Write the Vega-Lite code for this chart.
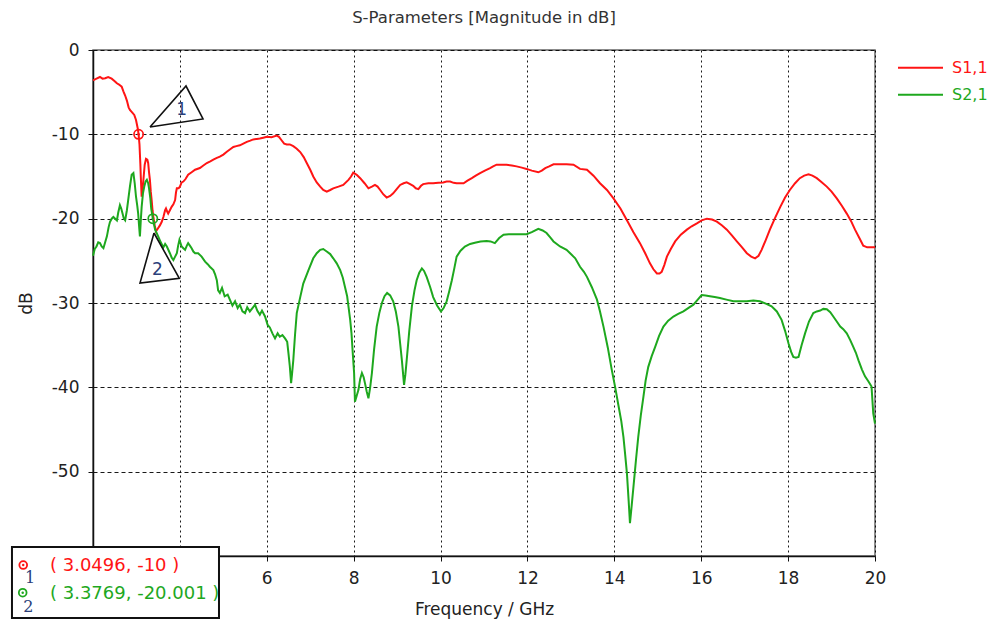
{
  "$schema": "https://vega.github.io/schema/vega-lite/v6.json",
  "width": 782,
  "height": 506,
  "autosize": {"type": "none"},
  "padding": {"left": 93, "top": 50, "right": 114, "bottom": 67},
  "background": "white",
  "title": {
    "text": "S-Parameters [Magnitude in dB]",
    "font": "DejaVu Sans",
    "fontSize": 16.5,
    "fontWeight": "normal",
    "color": "#333333",
    "anchor": "middle",
    "offset": 15
  },
  "config": {
    "font": "DejaVu Sans",
    "view": {"stroke": "#666666", "strokeWidth": 1.5},
    "axis": {
      "domainColor": "#111111",
      "domainWidth": 1.5,
      "tickColor": "#111111",
      "tickSize": 5,
      "labelPadding": 9,
      "labelFontSize": 17,
      "labelColor": "#222222",
      "labelFlush": false,
      "labelOverlap": false,
      "titleFontSize": 17,
      "titleFontWeight": "normal",
      "titleColor": "#222222",
      "grid": true,
      "gridColor": "#000000",
      "gridWidth": 1,
      "gridOpacity": 0.9
    }
  },
  "datasets": {
    "curves": [
      {"s":"S1,1","f":2.00,"dB":-3.6},{"s":"S1,1","f":2.08,"dB":-3.4},{"s":"S1,1","f":2.16,"dB":-3.2},{"s":"S1,1","f":2.22,"dB":-3.4},
      {"s":"S1,1","f":2.28,"dB":-3.35},{"s":"S1,1","f":2.35,"dB":-3.2},{"s":"S1,1","f":2.43,"dB":-3.4},{"s":"S1,1","f":2.50,"dB":-3.7},
      {"s":"S1,1","f":2.55,"dB":-3.95},{"s":"S1,1","f":2.60,"dB":-4.1},{"s":"S1,1","f":2.66,"dB":-4.35},{"s":"S1,1","f":2.70,"dB":-4.9},
      {"s":"S1,1","f":2.74,"dB":-5.4},{"s":"S1,1","f":2.78,"dB":-6.0},{"s":"S1,1","f":2.82,"dB":-6.8},{"s":"S1,1","f":2.85,"dB":-7.1},
      {"s":"S1,1","f":2.90,"dB":-7.4},{"s":"S1,1","f":2.95,"dB":-7.7},{"s":"S1,1","f":2.99,"dB":-8.3},{"s":"S1,1","f":3.03,"dB":-9.3},
      {"s":"S1,1","f":3.0496,"dB":-10.0},{"s":"S1,1","f":3.07,"dB":-11.2},{"s":"S1,1","f":3.09,"dB":-13.5},{"s":"S1,1","f":3.10,"dB":-15.0},
      {"s":"S1,1","f":3.12,"dB":-17.4},{"s":"S1,1","f":3.14,"dB":-16.5},{"s":"S1,1","f":3.16,"dB":-15.4},{"s":"S1,1","f":3.19,"dB":-13.6},
      {"s":"S1,1","f":3.22,"dB":-12.9},{"s":"S1,1","f":3.25,"dB":-13.0},{"s":"S1,1","f":3.27,"dB":-13.4},{"s":"S1,1","f":3.29,"dB":-14.5},
      {"s":"S1,1","f":3.31,"dB":-15.4},{"s":"S1,1","f":3.33,"dB":-16.8},{"s":"S1,1","f":3.35,"dB":-17.8},{"s":"S1,1","f":3.37,"dB":-19.0},
      {"s":"S1,1","f":3.39,"dB":-19.8},{"s":"S1,1","f":3.42,"dB":-20.8},{"s":"S1,1","f":3.45,"dB":-21.5},{"s":"S1,1","f":3.49,"dB":-21.2},
      {"s":"S1,1","f":3.54,"dB":-20.8},{"s":"S1,1","f":3.58,"dB":-20.4},{"s":"S1,1","f":3.62,"dB":-19.8},{"s":"S1,1","f":3.66,"dB":-19.0},
      {"s":"S1,1","f":3.68,"dB":-18.8},{"s":"S1,1","f":3.71,"dB":-19.2},{"s":"S1,1","f":3.73,"dB":-19.4},{"s":"S1,1","f":3.77,"dB":-19.0},
      {"s":"S1,1","f":3.81,"dB":-18.6},{"s":"S1,1","f":3.85,"dB":-18.3},{"s":"S1,1","f":3.89,"dB":-17.8},{"s":"S1,1","f":3.91,"dB":-16.9},
      {"s":"S1,1","f":3.93,"dB":-16.4},{"s":"S1,1","f":3.97,"dB":-16.4},{"s":"S1,1","f":4.00,"dB":-16.2},{"s":"S1,1","f":4.04,"dB":-15.7},
      {"s":"S1,1","f":4.08,"dB":-15.6},{"s":"S1,1","f":4.13,"dB":-15.3},{"s":"S1,1","f":4.19,"dB":-14.8},{"s":"S1,1","f":4.27,"dB":-14.5},
      {"s":"S1,1","f":4.35,"dB":-14.2},{"s":"S1,1","f":4.46,"dB":-14.0},{"s":"S1,1","f":4.54,"dB":-13.7},{"s":"S1,1","f":4.62,"dB":-13.4},
      {"s":"S1,1","f":4.70,"dB":-13.2},{"s":"S1,1","f":4.77,"dB":-13.0},{"s":"S1,1","f":4.85,"dB":-12.8},{"s":"S1,1","f":4.92,"dB":-12.65},
      {"s":"S1,1","f":5.00,"dB":-12.4},{"s":"S1,1","f":5.08,"dB":-12.06},{"s":"S1,1","f":5.15,"dB":-11.8},{"s":"S1,1","f":5.23,"dB":-11.5},
      {"s":"S1,1","f":5.30,"dB":-11.4},{"s":"S1,1","f":5.38,"dB":-11.3},{"s":"S1,1","f":5.46,"dB":-11.1},{"s":"S1,1","f":5.54,"dB":-10.9},
      {"s":"S1,1","f":5.62,"dB":-10.75},{"s":"S1,1","f":5.69,"dB":-10.6},{"s":"S1,1","f":5.77,"dB":-10.55},{"s":"S1,1","f":5.84,"dB":-10.5},
      {"s":"S1,1","f":5.92,"dB":-10.4},{"s":"S1,1","f":6.00,"dB":-10.3},{"s":"S1,1","f":6.11,"dB":-10.35},{"s":"S1,1","f":6.23,"dB":-10.15},
      {"s":"S1,1","f":6.28,"dB":-10.3},{"s":"S1,1","f":6.34,"dB":-10.7},{"s":"S1,1","f":6.40,"dB":-11.1},{"s":"S1,1","f":6.46,"dB":-11.2},
      {"s":"S1,1","f":6.53,"dB":-11.2},{"s":"S1,1","f":6.61,"dB":-11.4},{"s":"S1,1","f":6.69,"dB":-11.7},{"s":"S1,1","f":6.77,"dB":-12.1},
      {"s":"S1,1","f":6.85,"dB":-12.7},{"s":"S1,1","f":6.92,"dB":-13.4},{"s":"S1,1","f":7.00,"dB":-14.2},{"s":"S1,1","f":7.07,"dB":-15.0},
      {"s":"S1,1","f":7.15,"dB":-15.7},{"s":"S1,1","f":7.23,"dB":-16.2},{"s":"S1,1","f":7.30,"dB":-16.6},{"s":"S1,1","f":7.38,"dB":-16.8},
      {"s":"S1,1","f":7.46,"dB":-16.6},{"s":"S1,1","f":7.53,"dB":-16.4},{"s":"S1,1","f":7.65,"dB":-16.2},{"s":"S1,1","f":7.76,"dB":-16.0},
      {"s":"S1,1","f":7.88,"dB":-15.4},{"s":"S1,1","f":7.94,"dB":-15.0},{"s":"S1,1","f":7.99,"dB":-14.55},{"s":"S1,1","f":8.07,"dB":-14.8},
      {"s":"S1,1","f":8.15,"dB":-15.2},{"s":"S1,1","f":8.25,"dB":-15.8},{"s":"S1,1","f":8.34,"dB":-16.4},{"s":"S1,1","f":8.42,"dB":-16.2},
      {"s":"S1,1","f":8.49,"dB":-16.0},{"s":"S1,1","f":8.55,"dB":-16.2},{"s":"S1,1","f":8.61,"dB":-16.6},{"s":"S1,1","f":8.68,"dB":-17.1},
      {"s":"S1,1","f":8.76,"dB":-17.5},{"s":"S1,1","f":8.84,"dB":-17.3},{"s":"S1,1","f":8.91,"dB":-17.0},{"s":"S1,1","f":8.99,"dB":-16.5},
      {"s":"S1,1","f":9.07,"dB":-16.0},{"s":"S1,1","f":9.15,"dB":-15.8},{"s":"S1,1","f":9.22,"dB":-15.7},{"s":"S1,1","f":9.30,"dB":-15.9},
      {"s":"S1,1","f":9.37,"dB":-16.1},{"s":"S1,1","f":9.43,"dB":-16.4},{"s":"S1,1","f":9.49,"dB":-16.5},{"s":"S1,1","f":9.55,"dB":-16.1},
      {"s":"S1,1","f":9.60,"dB":-15.9},{"s":"S1,1","f":9.72,"dB":-15.8},{"s":"S1,1","f":9.83,"dB":-15.8},{"s":"S1,1","f":9.95,"dB":-15.75},
      {"s":"S1,1","f":10.06,"dB":-15.7},{"s":"S1,1","f":10.14,"dB":-15.6},{"s":"S1,1","f":10.22,"dB":-15.6},{"s":"S1,1","f":10.30,"dB":-15.75},
      {"s":"S1,1","f":10.37,"dB":-15.8},{"s":"S1,1","f":10.53,"dB":-15.8},{"s":"S1,1","f":10.62,"dB":-15.5},{"s":"S1,1","f":10.72,"dB":-15.2},
      {"s":"S1,1","f":10.81,"dB":-14.9},{"s":"S1,1","f":10.91,"dB":-14.6},{"s":"S1,1","f":11.02,"dB":-14.3},{"s":"S1,1","f":11.14,"dB":-14.0},
      {"s":"S1,1","f":11.21,"dB":-13.8},{"s":"S1,1","f":11.29,"dB":-13.6},{"s":"S1,1","f":11.40,"dB":-13.6},{"s":"S1,1","f":11.52,"dB":-13.6},
      {"s":"S1,1","f":11.64,"dB":-13.7},{"s":"S1,1","f":11.75,"dB":-13.8},{"s":"S1,1","f":11.87,"dB":-13.95},{"s":"S1,1","f":11.98,"dB":-14.1},
      {"s":"S1,1","f":12.10,"dB":-14.3},{"s":"S1,1","f":12.25,"dB":-14.5},{"s":"S1,1","f":12.33,"dB":-14.3},{"s":"S1,1","f":12.41,"dB":-14.0},
      {"s":"S1,1","f":12.50,"dB":-13.8},{"s":"S1,1","f":12.60,"dB":-13.55},{"s":"S1,1","f":12.75,"dB":-13.55},{"s":"S1,1","f":12.90,"dB":-13.55},
      {"s":"S1,1","f":13.06,"dB":-13.6},{"s":"S1,1","f":13.21,"dB":-14.1},{"s":"S1,1","f":13.37,"dB":-14.2},{"s":"S1,1","f":13.52,"dB":-14.9},
      {"s":"S1,1","f":13.67,"dB":-15.8},{"s":"S1,1","f":13.83,"dB":-16.6},{"s":"S1,1","f":13.98,"dB":-17.6},{"s":"S1,1","f":14.14,"dB":-18.8},
      {"s":"S1,1","f":14.29,"dB":-20.2},{"s":"S1,1","f":14.44,"dB":-21.6},{"s":"S1,1","f":14.59,"dB":-22.9},{"s":"S1,1","f":14.71,"dB":-24.1},
      {"s":"S1,1","f":14.82,"dB":-25.3},{"s":"S1,1","f":14.90,"dB":-26.0},{"s":"S1,1","f":14.98,"dB":-26.5},{"s":"S1,1","f":15.04,"dB":-26.5},
      {"s":"S1,1","f":15.09,"dB":-26.3},{"s":"S1,1","f":15.15,"dB":-25.5},{"s":"S1,1","f":15.21,"dB":-24.5},{"s":"S1,1","f":15.30,"dB":-23.6},
      {"s":"S1,1","f":15.40,"dB":-22.7},{"s":"S1,1","f":15.53,"dB":-21.9},{"s":"S1,1","f":15.67,"dB":-21.3},{"s":"S1,1","f":15.78,"dB":-20.9},
      {"s":"S1,1","f":15.90,"dB":-20.55},{"s":"S1,1","f":16.01,"dB":-20.2},{"s":"S1,1","f":16.13,"dB":-20.0},{"s":"S1,1","f":16.25,"dB":-20.1},
      {"s":"S1,1","f":16.36,"dB":-20.35},{"s":"S1,1","f":16.48,"dB":-20.8},{"s":"S1,1","f":16.59,"dB":-21.3},{"s":"S1,1","f":16.71,"dB":-22.0},
      {"s":"S1,1","f":16.82,"dB":-22.7},{"s":"S1,1","f":16.94,"dB":-23.4},{"s":"S1,1","f":17.05,"dB":-24.1},{"s":"S1,1","f":17.15,"dB":-24.5},
      {"s":"S1,1","f":17.24,"dB":-24.7},{"s":"S1,1","f":17.32,"dB":-24.4},{"s":"S1,1","f":17.39,"dB":-23.7},{"s":"S1,1","f":17.48,"dB":-22.6},
      {"s":"S1,1","f":17.58,"dB":-21.3},{"s":"S1,1","f":17.70,"dB":-19.9},{"s":"S1,1","f":17.82,"dB":-18.6},{"s":"S1,1","f":17.93,"dB":-17.5},
      {"s":"S1,1","f":18.04,"dB":-16.6},{"s":"S1,1","f":18.16,"dB":-15.8},{"s":"S1,1","f":18.27,"dB":-15.2},{"s":"S1,1","f":18.37,"dB":-14.9},
      {"s":"S1,1","f":18.47,"dB":-14.75},{"s":"S1,1","f":18.56,"dB":-14.9},{"s":"S1,1","f":18.66,"dB":-15.2},{"s":"S1,1","f":18.78,"dB":-15.7},
      {"s":"S1,1","f":18.89,"dB":-16.2},{"s":"S1,1","f":19.00,"dB":-16.8},{"s":"S1,1","f":19.12,"dB":-17.6},{"s":"S1,1","f":19.24,"dB":-18.5},
      {"s":"S1,1","f":19.35,"dB":-19.4},{"s":"S1,1","f":19.45,"dB":-20.3},{"s":"S1,1","f":19.54,"dB":-21.3},{"s":"S1,1","f":19.64,"dB":-22.3},
      {"s":"S1,1","f":19.73,"dB":-23.2},{"s":"S1,1","f":19.82,"dB":-23.4},{"s":"S1,1","f":20.00,"dB":-23.4},

      {"s":"S2,1","f":2.00,"dB":-24.4},{"s":"S2,1","f":2.04,"dB":-23.6},{"s":"S2,1","f":2.08,"dB":-23.3},{"s":"S2,1","f":2.12,"dB":-22.8},
      {"s":"S2,1","f":2.16,"dB":-22.9},{"s":"S2,1","f":2.20,"dB":-23.3},{"s":"S2,1","f":2.24,"dB":-23.5},{"s":"S2,1","f":2.28,"dB":-22.8},
      {"s":"S2,1","f":2.32,"dB":-22.1},{"s":"S2,1","f":2.36,"dB":-21.0},{"s":"S2,1","f":2.39,"dB":-20.4},{"s":"S2,1","f":2.43,"dB":-20.0},
      {"s":"S2,1","f":2.47,"dB":-19.8},{"s":"S2,1","f":2.51,"dB":-20.0},{"s":"S2,1","f":2.55,"dB":-20.2},{"s":"S2,1","f":2.58,"dB":-19.3},
      {"s":"S2,1","f":2.62,"dB":-18.4},{"s":"S2,1","f":2.65,"dB":-18.8},{"s":"S2,1","f":2.68,"dB":-19.4},{"s":"S2,1","f":2.71,"dB":-20.0},
      {"s":"S2,1","f":2.74,"dB":-20.2},{"s":"S2,1","f":2.78,"dB":-19.0},{"s":"S2,1","f":2.81,"dB":-17.8},{"s":"S2,1","f":2.85,"dB":-16.2},
      {"s":"S2,1","f":2.89,"dB":-14.8},{"s":"S2,1","f":2.93,"dB":-14.6},{"s":"S2,1","f":2.96,"dB":-15.8},{"s":"S2,1","f":2.99,"dB":-17.4},
      {"s":"S2,1","f":3.02,"dB":-18.5},{"s":"S2,1","f":3.04,"dB":-19.4},{"s":"S2,1","f":3.06,"dB":-20.8},{"s":"S2,1","f":3.08,"dB":-22.1},
      {"s":"S2,1","f":3.10,"dB":-20.2},{"s":"S2,1","f":3.12,"dB":-18.6},{"s":"S2,1","f":3.15,"dB":-17.0},{"s":"S2,1","f":3.18,"dB":-16.2},
      {"s":"S2,1","f":3.21,"dB":-15.6},{"s":"S2,1","f":3.24,"dB":-15.4},{"s":"S2,1","f":3.27,"dB":-15.8},{"s":"S2,1","f":3.29,"dB":-16.4},
      {"s":"S2,1","f":3.32,"dB":-17.6},{"s":"S2,1","f":3.34,"dB":-18.8},{"s":"S2,1","f":3.3769,"dB":-20.001},{"s":"S2,1","f":3.43,"dB":-21.3},
      {"s":"S2,1","f":3.50,"dB":-22.1},{"s":"S2,1","f":3.56,"dB":-22.8},{"s":"S2,1","f":3.62,"dB":-23.4},{"s":"S2,1","f":3.66,"dB":-23.0},
      {"s":"S2,1","f":3.70,"dB":-23.3},{"s":"S2,1","f":3.77,"dB":-24.1},{"s":"S2,1","f":3.81,"dB":-24.6},{"s":"S2,1","f":3.85,"dB":-24.9},
      {"s":"S2,1","f":3.89,"dB":-24.5},{"s":"S2,1","f":3.93,"dB":-24.1},{"s":"S2,1","f":3.96,"dB":-23.2},{"s":"S2,1","f":3.99,"dB":-22.5},
      {"s":"S2,1","f":4.04,"dB":-23.3},{"s":"S2,1","f":4.08,"dB":-23.5},{"s":"S2,1","f":4.12,"dB":-23.7},{"s":"S2,1","f":4.16,"dB":-23.2},
      {"s":"S2,1","f":4.19,"dB":-22.9},{"s":"S2,1","f":4.23,"dB":-23.2},{"s":"S2,1","f":4.27,"dB":-23.5},{"s":"S2,1","f":4.31,"dB":-23.9},
      {"s":"S2,1","f":4.35,"dB":-24.1},{"s":"S2,1","f":4.42,"dB":-24.1},{"s":"S2,1","f":4.50,"dB":-24.5},{"s":"S2,1","f":4.58,"dB":-25.1},
      {"s":"S2,1","f":4.64,"dB":-25.4},{"s":"S2,1","f":4.69,"dB":-25.7},{"s":"S2,1","f":4.77,"dB":-26.1},{"s":"S2,1","f":4.81,"dB":-26.6},
      {"s":"S2,1","f":4.85,"dB":-27.3},{"s":"S2,1","f":4.88,"dB":-28.5},{"s":"S2,1","f":4.92,"dB":-28.8},{"s":"S2,1","f":4.97,"dB":-28.2},
      {"s":"S2,1","f":5.03,"dB":-29.2},{"s":"S2,1","f":5.10,"dB":-29.0},{"s":"S2,1","f":5.15,"dB":-29.6},{"s":"S2,1","f":5.21,"dB":-30.3},
      {"s":"S2,1","f":5.27,"dB":-29.8},{"s":"S2,1","f":5.33,"dB":-30.6},{"s":"S2,1","f":5.38,"dB":-30.2},{"s":"S2,1","f":5.44,"dB":-31.0},
      {"s":"S2,1","f":5.50,"dB":-31.2},{"s":"S2,1","f":5.55,"dB":-30.5},{"s":"S2,1","f":5.61,"dB":-31.0},{"s":"S2,1","f":5.67,"dB":-30.6},
      {"s":"S2,1","f":5.73,"dB":-30.2},{"s":"S2,1","f":5.78,"dB":-30.9},{"s":"S2,1","f":5.84,"dB":-31.4},{"s":"S2,1","f":5.89,"dB":-30.9},
      {"s":"S2,1","f":5.96,"dB":-31.6},{"s":"S2,1","f":6.02,"dB":-32.6},{"s":"S2,1","f":6.07,"dB":-32.9},{"s":"S2,1","f":6.13,"dB":-33.6},
      {"s":"S2,1","f":6.19,"dB":-34.2},{"s":"S2,1","f":6.25,"dB":-33.6},{"s":"S2,1","f":6.30,"dB":-34.0},{"s":"S2,1","f":6.36,"dB":-33.8},
      {"s":"S2,1","f":6.42,"dB":-34.2},{"s":"S2,1","f":6.47,"dB":-34.6},{"s":"S2,1","f":6.50,"dB":-36.0},{"s":"S2,1","f":6.53,"dB":-37.5},
      {"s":"S2,1","f":6.56,"dB":-39.5},{"s":"S2,1","f":6.58,"dB":-38.5},{"s":"S2,1","f":6.61,"dB":-36.8},{"s":"S2,1","f":6.65,"dB":-33.8},
      {"s":"S2,1","f":6.69,"dB":-31.2},{"s":"S2,1","f":6.77,"dB":-29.3},{"s":"S2,1","f":6.84,"dB":-27.7},{"s":"S2,1","f":6.96,"dB":-26.1},
      {"s":"S2,1","f":7.07,"dB":-24.7},{"s":"S2,1","f":7.15,"dB":-24.1},{"s":"S2,1","f":7.23,"dB":-23.7},{"s":"S2,1","f":7.30,"dB":-23.6},
      {"s":"S2,1","f":7.38,"dB":-23.9},{"s":"S2,1","f":7.46,"dB":-24.2},{"s":"S2,1","f":7.53,"dB":-24.7},{"s":"S2,1","f":7.61,"dB":-25.3},
      {"s":"S2,1","f":7.69,"dB":-26.1},{"s":"S2,1","f":7.75,"dB":-27.0},{"s":"S2,1","f":7.80,"dB":-28.1},{"s":"S2,1","f":7.85,"dB":-29.2},
      {"s":"S2,1","f":7.88,"dB":-30.4},{"s":"S2,1","f":7.92,"dB":-32.0},{"s":"S2,1","f":7.95,"dB":-33.6},{"s":"S2,1","f":7.98,"dB":-36.0},
      {"s":"S2,1","f":8.01,"dB":-38.3},{"s":"S2,1","f":8.03,"dB":-41.7},{"s":"S2,1","f":8.07,"dB":-41.0},{"s":"S2,1","f":8.11,"dB":-40.3},
      {"s":"S2,1","f":8.15,"dB":-39.0},{"s":"S2,1","f":8.19,"dB":-38.3},{"s":"S2,1","f":8.23,"dB":-38.8},{"s":"S2,1","f":8.26,"dB":-39.5},
      {"s":"S2,1","f":8.30,"dB":-40.5},{"s":"S2,1","f":8.34,"dB":-41.3},{"s":"S2,1","f":8.38,"dB":-40.0},{"s":"S2,1","f":8.42,"dB":-38.3},
      {"s":"S2,1","f":8.47,"dB":-35.5},{"s":"S2,1","f":8.53,"dB":-32.8},{"s":"S2,1","f":8.59,"dB":-31.2},{"s":"S2,1","f":8.65,"dB":-30.0},
      {"s":"S2,1","f":8.71,"dB":-29.2},{"s":"S2,1","f":8.77,"dB":-28.8},{"s":"S2,1","f":8.84,"dB":-29.1},{"s":"S2,1","f":8.91,"dB":-29.8},
      {"s":"S2,1","f":8.97,"dB":-31.0},{"s":"S2,1","f":9.03,"dB":-32.8},{"s":"S2,1","f":9.07,"dB":-34.8},{"s":"S2,1","f":9.11,"dB":-36.8},
      {"s":"S2,1","f":9.16,"dB":-39.7},{"s":"S2,1","f":9.19,"dB":-38.5},{"s":"S2,1","f":9.22,"dB":-36.8},{"s":"S2,1","f":9.28,"dB":-33.3},
      {"s":"S2,1","f":9.34,"dB":-30.4},{"s":"S2,1","f":9.40,"dB":-28.5},{"s":"S2,1","f":9.45,"dB":-27.3},{"s":"S2,1","f":9.51,"dB":-26.4},
      {"s":"S2,1","f":9.57,"dB":-25.9},{"s":"S2,1","f":9.62,"dB":-26.2},{"s":"S2,1","f":9.68,"dB":-26.9},{"s":"S2,1","f":9.76,"dB":-28.1},
      {"s":"S2,1","f":9.83,"dB":-29.3},{"s":"S2,1","f":9.92,"dB":-30.3},{"s":"S2,1","f":10.01,"dB":-31.0},{"s":"S2,1","f":10.07,"dB":-30.6},
      {"s":"S2,1","f":10.14,"dB":-29.8},{"s":"S2,1","f":10.20,"dB":-28.6},{"s":"S2,1","f":10.26,"dB":-27.3},{"s":"S2,1","f":10.32,"dB":-25.8},
      {"s":"S2,1","f":10.37,"dB":-24.5},{"s":"S2,1","f":10.46,"dB":-23.8},{"s":"S2,1","f":10.56,"dB":-23.3},{"s":"S2,1","f":10.68,"dB":-23.0},
      {"s":"S2,1","f":10.79,"dB":-22.85},{"s":"S2,1","f":10.92,"dB":-22.7},{"s":"S2,1","f":11.06,"dB":-22.65},{"s":"S2,1","f":11.15,"dB":-22.7},
      {"s":"S2,1","f":11.25,"dB":-22.9},{"s":"S2,1","f":11.35,"dB":-22.3},{"s":"S2,1","f":11.45,"dB":-21.9},{"s":"S2,1","f":11.57,"dB":-21.85},
      {"s":"S2,1","f":11.68,"dB":-21.85},{"s":"S2,1","f":11.83,"dB":-21.85},{"s":"S2,1","f":11.98,"dB":-21.85},{"s":"S2,1","f":12.10,"dB":-21.6},
      {"s":"S2,1","f":12.25,"dB":-21.2},{"s":"S2,1","f":12.35,"dB":-21.4},{"s":"S2,1","f":12.44,"dB":-21.7},{"s":"S2,1","f":12.52,"dB":-22.2},
      {"s":"S2,1","f":12.60,"dB":-22.7},{"s":"S2,1","f":12.75,"dB":-23.3},{"s":"S2,1","f":12.90,"dB":-23.7},{"s":"S2,1","f":13.00,"dB":-24.2},
      {"s":"S2,1","f":13.10,"dB":-24.7},{"s":"S2,1","f":13.21,"dB":-25.7},{"s":"S2,1","f":13.30,"dB":-26.3},{"s":"S2,1","f":13.37,"dB":-26.9},
      {"s":"S2,1","f":13.48,"dB":-28.1},{"s":"S2,1","f":13.60,"dB":-29.6},{"s":"S2,1","f":13.67,"dB":-31.0},{"s":"S2,1","f":13.75,"dB":-32.8},
      {"s":"S2,1","f":13.85,"dB":-35.3},{"s":"S2,1","f":13.94,"dB":-37.9},{"s":"S2,1","f":14.02,"dB":-40.0},{"s":"S2,1","f":14.10,"dB":-42.3},
      {"s":"S2,1","f":14.16,"dB":-44.0},{"s":"S2,1","f":14.21,"dB":-45.9},{"s":"S2,1","f":14.25,"dB":-48.0},{"s":"S2,1","f":14.29,"dB":-50.2},
      {"s":"S2,1","f":14.33,"dB":-53.5},{"s":"S2,1","f":14.36,"dB":-56.1},{"s":"S2,1","f":14.40,"dB":-54.0},{"s":"S2,1","f":14.44,"dB":-51.8},
      {"s":"S2,1","f":14.50,"dB":-48.5},{"s":"S2,1","f":14.55,"dB":-45.9},{"s":"S2,1","f":14.61,"dB":-43.3},{"s":"S2,1","f":14.67,"dB":-41.1},
      {"s":"S2,1","f":14.72,"dB":-39.2},{"s":"S2,1","f":14.78,"dB":-37.6},{"s":"S2,1","f":14.86,"dB":-36.3},{"s":"S2,1","f":14.94,"dB":-35.2},
      {"s":"S2,1","f":15.03,"dB":-33.9},{"s":"S2,1","f":15.13,"dB":-32.8},{"s":"S2,1","f":15.24,"dB":-32.1},{"s":"S2,1","f":15.36,"dB":-31.6},
      {"s":"S2,1","f":15.47,"dB":-31.3},{"s":"S2,1","f":15.59,"dB":-31.0},{"s":"S2,1","f":15.70,"dB":-30.6},{"s":"S2,1","f":15.82,"dB":-30.2},
      {"s":"S2,1","f":15.92,"dB":-29.6},{"s":"S2,1","f":16.01,"dB":-29.05},{"s":"S2,1","f":16.10,"dB":-29.1},{"s":"S2,1","f":16.20,"dB":-29.2},
      {"s":"S2,1","f":16.31,"dB":-29.3},{"s":"S2,1","f":16.43,"dB":-29.4},{"s":"S2,1","f":16.58,"dB":-29.6},{"s":"S2,1","f":16.74,"dB":-29.8},
      {"s":"S2,1","f":16.90,"dB":-29.8},{"s":"S2,1","f":17.05,"dB":-29.8},{"s":"S2,1","f":17.20,"dB":-29.7},{"s":"S2,1","f":17.35,"dB":-29.8},
      {"s":"S2,1","f":17.50,"dB":-30.1},{"s":"S2,1","f":17.62,"dB":-30.4},{"s":"S2,1","f":17.74,"dB":-31.0},{"s":"S2,1","f":17.85,"dB":-32.0},
      {"s":"S2,1","f":17.93,"dB":-33.3},{"s":"S2,1","f":18.01,"dB":-34.8},{"s":"S2,1","f":18.07,"dB":-35.8},{"s":"S2,1","f":18.12,"dB":-36.4},
      {"s":"S2,1","f":18.18,"dB":-36.5},{"s":"S2,1","f":18.24,"dB":-36.4},{"s":"S2,1","f":18.31,"dB":-35.0},{"s":"S2,1","f":18.39,"dB":-33.6},
      {"s":"S2,1","f":18.48,"dB":-32.2},{"s":"S2,1","f":18.58,"dB":-31.2},{"s":"S2,1","f":18.66,"dB":-31.0},{"s":"S2,1","f":18.74,"dB":-30.9},
      {"s":"S2,1","f":18.81,"dB":-30.7},{"s":"S2,1","f":18.89,"dB":-30.75},{"s":"S2,1","f":18.97,"dB":-31.1},{"s":"S2,1","f":19.04,"dB":-31.6},
      {"s":"S2,1","f":19.12,"dB":-32.2},{"s":"S2,1","f":19.20,"dB":-32.8},{"s":"S2,1","f":19.27,"dB":-33.1},{"s":"S2,1","f":19.35,"dB":-33.6},
      {"s":"S2,1","f":19.43,"dB":-34.4},{"s":"S2,1","f":19.50,"dB":-35.2},{"s":"S2,1","f":19.56,"dB":-35.9},{"s":"S2,1","f":19.62,"dB":-36.8},
      {"s":"S2,1","f":19.70,"dB":-37.9},{"s":"S2,1","f":19.77,"dB":-38.7},{"s":"S2,1","f":19.85,"dB":-39.3},{"s":"S2,1","f":19.92,"dB":-39.9},
      {"s":"S2,1","f":19.96,"dB":-43.1},{"s":"S2,1","f":20.00,"dB":-44.3}
    ],
    "markers": [
      {"n": "1", "s": "S1,1", "f": 3.0496, "dB": -10},
      {"n": "2", "s": "S2,1", "f": 3.3769, "dB": -20.001}
    ],
    "callouts": [
      {"id": "1", "k": 0, "f": 3.312, "dB": -9.13},
      {"id": "1", "k": 1, "f": 4.141, "dB": -4.27},
      {"id": "1", "k": 2, "f": 4.532, "dB": -8.18},
      {"id": "1", "k": 3, "f": 3.312, "dB": -9.13},
      {"id": "2", "k": 0, "f": 3.404, "dB": -21.70},
      {"id": "2", "k": 1, "f": 3.082, "dB": -27.63},
      {"id": "2", "k": 2, "f": 3.987, "dB": -27.07},
      {"id": "2", "k": 3, "f": 3.404, "dB": -21.70}
    ],
    "calloutLabels": [
      {"id": "1", "f": 4.04, "dB": -7.12},
      {"id": "2", "f": 3.48, "dB": -26.09}
    ]
  },
  "layer": [
    {
      "data": {"name": "curves"},
      "mark": {"type": "line", "strokeWidth": 2},
      "encoding": {
        "x": {
          "field": "f",
          "type": "quantitative",
          "scale": {"domain": [2, 20], "nice": false, "zero": false},
          "axis": {
            "title": "Frequency / GHz",
            "values": [2, 4, 6, 8, 10, 12, 14, 16, 18, 20],
            "labelExpr": "datum.value < 5 ? '' : '' + datum.value",
            "gridDash": [2, 3],
            "titlePadding": 15
          }
        },
        "y": {
          "field": "dB",
          "type": "quantitative",
          "scale": {"domain": [-60, 0], "nice": false, "zero": false},
          "axis": {
            "title": "dB",
            "values": [-60, -50, -40, -30, -20, -10, 0],
            "labelExpr": "datum.value < -55 ? '' : '' + datum.value",
            "gridDash": [4, 3],
            "titlePadding": 16
          }
        },
        "color": {
          "field": "s",
          "type": "nominal",
          "scale": {"domain": ["S1,1", "S2,1"], "range": ["#ff1414", "#1ea81e"]},
          "legend": {
            "orient": "none",
            "legendX": 816.5,
            "legendY": 6.7,
            "title": null,
            "padding": 0,
            "symbolType": "M-2.25,0H2.25",
            "symbolSize": 400,
            "symbolStrokeWidth": 2,
            "labelFont": "DejaVu Sans",
            "labelFontSize": 16,
            "labelOffset": 20.5,
            "rowPadding": 8,
            "encode": {
              "labels": {"update": {"fill": {"scale": "color", "field": "value"}}},
              "symbols": {"update": {"stroke": {"scale": "color", "field": "value"}, "fill": {"value": "transparent"}}}
            }
          }
        }
      }
    },
    {
      "data": {"name": "callouts"},
      "mark": {"type": "line", "color": "#111111", "strokeWidth": 1.6},
      "encoding": {
        "x": {"field": "f", "type": "quantitative"},
        "y": {"field": "dB", "type": "quantitative"},
        "detail": {"field": "id"},
        "order": {"field": "k", "type": "quantitative"}
      }
    },
    {
      "data": {"name": "calloutLabels"},
      "mark": {"type": "text", "fontSize": 17, "color": "#2b3f7a", "font": "DejaVu Sans"},
      "encoding": {
        "x": {"field": "f", "type": "quantitative"},
        "y": {"field": "dB", "type": "quantitative"},
        "text": {"field": "id"}
      }
    },
    {
      "data": {"name": "markers"},
      "mark": {"type": "point", "filled": false, "size": 85, "strokeWidth": 1.7, "opacity": 1},
      "encoding": {
        "x": {"field": "f", "type": "quantitative"},
        "y": {"field": "dB", "type": "quantitative"},
        "color": {"field": "s", "type": "nominal"}
      }
    },
    {
      "data": {"name": "markers"},
      "mark": {"type": "point", "filled": true, "size": 6, "opacity": 1},
      "encoding": {
        "x": {"field": "f", "type": "quantitative"},
        "y": {"field": "dB", "type": "quantitative"},
        "color": {"field": "s", "type": "nominal"}
      }
    },
    {
      "data": {"values": [{}]},
      "mark": {"type": "rect", "fill": "white", "stroke": "#111111", "strokeWidth": 2},
      "encoding": {
        "x": {"datum": 0.135},
        "x2": {"datum": 4.9},
        "y": {"datum": -58.94},
        "y2": {"datum": -67.35}
      }
    },
    {
      "data": {"name": "markers"},
      "transform": [
        {"filter": "datum.n === '1'"},
        {"calculate": "'( ' + datum.f + ', ' + datum.dB + ' )'", "as": "readout"}
      ],
      "layer": [
        {
          "mark": {"type": "text", "align": "left", "fontSize": 18, "font": "DejaVu Sans"},
          "encoding": {"x": {"datum": 1.01}, "y": {"datum": -61.23}, "text": {"field": "readout"}, "color": {"field": "s", "type": "nominal"}}
        },
        {
          "mark": {"type": "point", "filled": false, "size": 60, "strokeWidth": 1.8, "opacity": 1},
          "encoding": {"x": {"datum": 0.394}, "y": {"datum": -61.07}, "color": {"field": "s", "type": "nominal"}}
        },
        {
          "mark": {"type": "point", "filled": true, "size": 6, "opacity": 1},
          "encoding": {"x": {"datum": 0.394}, "y": {"datum": -61.07}, "color": {"field": "s", "type": "nominal"}}
        },
        {
          "mark": {"type": "text", "fontSize": 16, "color": "#2b3f7a", "font": "DejaVu Serif"},
          "encoding": {"x": {"datum": 0.55}, "y": {"datum": -62.65}, "text": {"field": "n"}}
        }
      ]
    },
    {
      "data": {"name": "markers"},
      "transform": [
        {"filter": "datum.n === '2'"},
        {"calculate": "'( ' + datum.f + ', ' + datum.dB + ' )'", "as": "readout"}
      ],
      "layer": [
        {
          "mark": {"type": "text", "align": "left", "fontSize": 18, "font": "DejaVu Sans"},
          "encoding": {"x": {"datum": 1.01}, "y": {"datum": -64.53}, "text": {"field": "readout"}, "color": {"field": "s", "type": "nominal"}}
        },
        {
          "mark": {"type": "point", "filled": false, "size": 60, "strokeWidth": 1.8, "opacity": 1},
          "encoding": {"x": {"datum": 0.382}, "y": {"datum": -64.35}, "color": {"field": "s", "type": "nominal"}}
        },
        {
          "mark": {"type": "point", "filled": true, "size": 6, "opacity": 1},
          "encoding": {"x": {"datum": 0.382}, "y": {"datum": -64.35}, "color": {"field": "s", "type": "nominal"}}
        },
        {
          "mark": {"type": "text", "fontSize": 16, "color": "#2b3f7a", "font": "DejaVu Serif"},
          "encoding": {"x": {"datum": 0.51}, "y": {"datum": -66.09}, "text": {"field": "n"}}
        }
      ]
    }
  ]
}
